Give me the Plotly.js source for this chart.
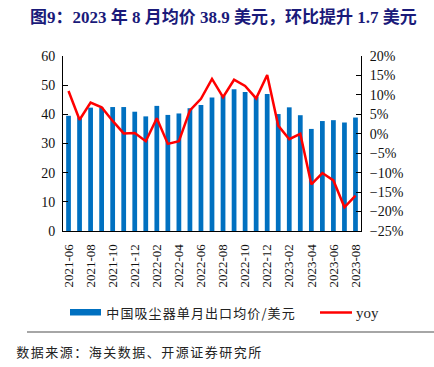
<!DOCTYPE html>
<html>
<head>
<meta charset="utf-8">
<script src="https://cdn.plot.ly/plotly-3.0.1.min.js"></script>
<style>
html,body{margin:0;padding:0;background:#fff;}
#chart{width:434px;height:367px;}
#chart g.annotation[data-index="1"] text{letter-spacing:1.1px;}
#chart g.annotation[data-index="3"] text{letter-spacing:1.5px;}
</style>
</head>
<body>
<div id="chart"></div>
<script>
var months = ["2021-06","2021-07","2021-08","2021-09","2021-10","2021-11","2021-12",
  "2022-01","2022-02","2022-03","2022-04","2022-05","2022-06","2022-07","2022-08",
  "2022-09","2022-10","2022-11","2022-12","2023-01","2023-02","2023-03","2023-04",
  "2023-05","2023-06","2023-07","2023-08"];
var avgPrice = [39.5, 39.0, 42.3, 42.3, 42.5, 42.5, 40.9, 39.3, 42.9, 39.8, 40.3, 42.1, 43.2,
  45.8, 46.5, 48.6, 47.7, 46.0, 47.0, 40.1, 42.4, 39.7, 35.0, 37.7, 38.0, 37.2, 38.9];
var yoy = [11.0, 3.6, 8.0, 6.8, 3.3, 0.1, 0.2, -1.9, 4.0, -2.6, -1.9, 6.0, 9.0,
  14.1, 9.4, 13.9, 12.3, 9.1, 15.1, 2.1, -1.4, 0.0, -13.0, -10.1, -12.0, -18.9, -15.9];
var tickLabels = months.filter(function(m, i){ return i % 2 === 0; });
var barName = "中国吸尘器单月出口均价/美元";
var lineName = "yoy";
var titleText = "图9：2023 年 8 月均价 38.9 美元，环比提升 1.7 美元";
var sourceText = "数据来源：海关数据、开源证券研究所";

var serif = "Liberation Serif, Times New Roman, Noto Sans CJK SC, serif";
var cjk = "Noto Sans CJK SC, sans-serif";
var blue = "#0070C0";
var red = "#FF0000";

// pixel -> paper helpers (plot area: x 63..361, y 56..231)
function px(x){ return (x - 63) / 298; }
function py(y){ return (231 - y) / 175; }

var traces = [
  {type:"bar", x:months, y:avgPrice, name:barName, marker:{color:blue}, yaxis:"y"},
  {type:"scatter", mode:"lines", x:months, y:yoy, name:lineName,
   line:{color:red, width:2.5}, yaxis:"y2"}
];

var layout = {
  width:434, height:367,
  margin:{l:63, r:73, t:56, b:136},
  paper_bgcolor:"#fff", plot_bgcolor:"#fff",
  bargap:0.57,
  showlegend:false,
  xaxis:{type:"category", tickmode:"array", tickvals:tickLabels, ticktext:tickLabels,
    tickangle:-90, tickfont:{family:serif, size:13, color:"#111"}, ticklabelstandoff:7,
    showline:true, linecolor:"#000", linewidth:1, ticks:"", showgrid:false, zeroline:false,
    range:[-0.5, months.length-0.5]},
  yaxis:{range:[0,60], dtick:10, tickfont:{family:serif, size:14, color:"#111"},
    showline:true, linecolor:"#000", linewidth:1, ticks:"inside", ticklen:5, tickcolor:"#000",
    ticklabelstandoff:4, showgrid:false, zeroline:false},
  yaxis2:{range:[-25,20], dtick:5, ticksuffix:"%", overlaying:"y", side:"right",
    tickfont:{family:serif, size:14, color:"#111"}, ticklabelstandoff:5,
    showline:true, linecolor:"#000", linewidth:1, ticks:"inside", ticklen:5, tickcolor:"#000",
    showgrid:false, zeroline:false},
  shapes:[
    {type:"rect", xref:"paper", yref:"paper", x0:px(70), x1:px(101), y0:py(315.5), y1:py(309),
      fillcolor:blue, line:{width:0}},
    {type:"line", xref:"paper", yref:"paper", x0:px(320), x1:px(352), y0:py(312.5), y1:py(312.5),
      line:{color:red, width:2.5}},
    {type:"line", xref:"paper", yref:"paper", x0:px(27), x1:px(434), y0:py(332), y1:py(332),
      line:{color:"#888", width:1.5}}
  ],
  annotations:[
    {text:"<b>" + titleText + "</b>", xref:"paper", yref:"paper", x:px(28), y:py(17),
      xanchor:"left", yanchor:"middle", showarrow:false,
      font:{family:serif, size:17, color:"#1a1a7a"}},
    {text:barName, xref:"paper", yref:"paper", x:px(112), y:py(312.5),
      xanchor:"left", yanchor:"middle", showarrow:false,
      font:{family:cjk, size:13, color:"#222"}},
    {text:lineName, xref:"paper", yref:"paper", x:px(354), y:py(312.5),
      xanchor:"left", yanchor:"middle", showarrow:false,
      font:{family:serif, size:15, color:"#222"}},
    {text:sourceText, xref:"paper", yref:"paper", x:px(27), y:py(351),
      xanchor:"left", yanchor:"middle", showarrow:false,
      font:{family:cjk, size:13, color:"#222"}}
  ]
};

Plotly.newPlot("chart", traces, layout, {displayModeBar:false, staticPlot:true});
</script>
</body>
</html>
